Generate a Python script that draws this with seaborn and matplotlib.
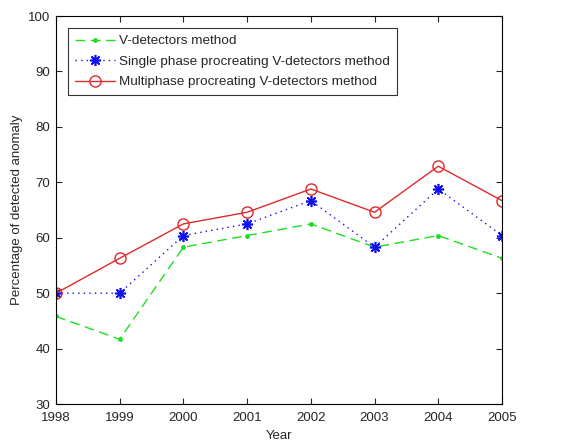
import matplotlib
matplotlib.use("Agg")
import matplotlib.pyplot as plt
import seaborn as sns
import pandas as pd

years = [1998, 1999, 2000, 2001, 2002, 2003, 2004, 2005]
v_detectors = [45.8, 41.7, 58.3, 60.4, 62.5, 58.3, 60.4, 56.3]
single_phase = [50.0, 50.0, 60.4, 62.5, 66.7, 58.3, 68.8, 60.4]
multiphase = [50.0, 56.3, 62.5, 64.6, 68.8, 64.6, 72.9, 66.7]
labels = ["V-detectors method",
          "Single phase procreating V-detectors method",
          "Multiphase procreating V-detectors method"]

sns.set_style("ticks")
plt.rcParams['font.family'] = ['Liberation Sans', 'DejaVu Sans']

fig = plt.figure(figsize=(5.77, 4.45), dpi=100)
ax = fig.add_axes([0.097, 0.092, 0.773, 0.872])

styles = [
    dict(color="#1ee01e", linestyle=(0, (7, 4)), marker=".", markersize=7, mew=0),
    dict(color="#1010ee", linestyle=(0, (1, 3)), marker=(8, 2, 0), markersize=8,
         markeredgecolor="#1010ee", mew=1.2),
    dict(color="#dd2a2a", linestyle="-", marker="o", markersize=8,
         markerfacecolor="none", markeredgecolor="#dd2a2a", mew=1.0),
]
for vals, lab, st in zip([v_detectors, single_phase, multiphase], labels, styles):
    df = pd.DataFrame({"Year": years, "val": vals})
    sns.lineplot(data=df, x="Year", y="val", ax=ax, label=lab, linewidth=1.0, **st)

ax.set_xlim(1998, 2005)
ax.set_ylim(30, 100)
ax.set_xticks(years)
ax.set_yticks(range(30, 101, 10))
ax.set_xlabel("Year", fontsize=9.5, labelpad=4)
ax.set_ylabel("Percentage of detected anomaly", fontsize=9.5, labelpad=4)
ax.tick_params(direction="in", length=4, top=True, right=True, labelsize=9.5)
ax.tick_params(axis="x", pad=6)
ax.tick_params(axis="y", pad=4)
for s in ax.spines.values():
    s.set_linewidth(0.8)
    s.set_color("black")

leg = ax.legend(loc="upper left", bbox_to_anchor=(0.027, 0.969), fontsize=9.7,
                frameon=True, fancybox=False, edgecolor="black",
                handlelength=3.0, handletextpad=0.3, borderpad=0.5,
                labelspacing=0.6, borderaxespad=0)
leg.get_frame().set_linewidth(0.8)

fig.savefig("out.png", dpi=100)
